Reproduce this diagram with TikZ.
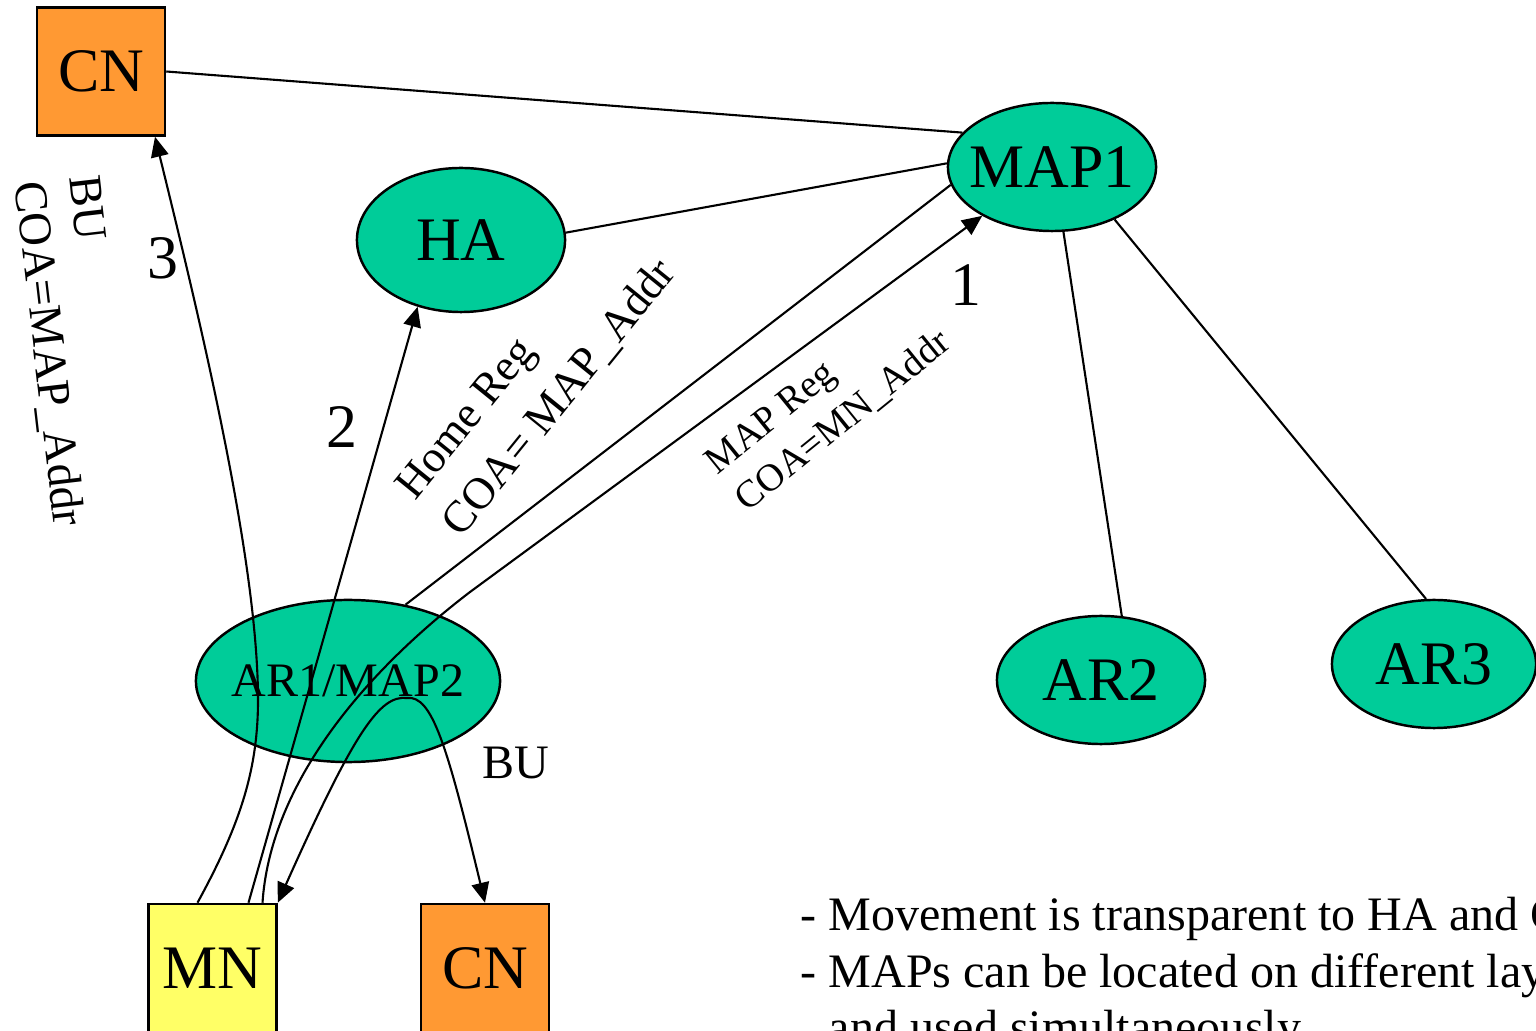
\documentclass[tikz,border=0pt]{standalone}
\usepackage{fontspec}
\setmainfont{Liberation Serif}
\usetikzlibrary{arrows.meta,calc,shapes.geometric}
\definecolor{nodegreen}{HTML}{00CC99}
\definecolor{cnorange}{HTML}{FF9933}
\definecolor{mnyellow}{HTML}{FFFF66}
\begin{document}
\begin{tikzpicture}[x=0.01cm,y=-0.01cm,
  big/.style={font=\fontsize{17.6}{21}\selectfont},
  mid/.style={font=\fontsize{13.66}{16.2}\selectfont},
  ell/.style={draw, line width=0.7pt, fill=nodegreen, ellipse, inner sep=0pt},
  box/.style={draw, line width=0.7pt, minimum width=1.28cm, minimum height=1.28cm, inner sep=0pt},
  conn/.style={line width=0.6pt},
  arr/.style={conn, -{Triangle[length=5.7pt,width=5pt]}},
  lbl/.style={inner sep=0pt}
]
\useasboundingbox (0,0) rectangle (1536,1031);
\clip (0,0) rectangle (1536,1031);

% nodes
\node[box, fill=cnorange, big] (cn1) at (101,71.5) {CN};
\node[ell, big, minimum width=2.08cm, minimum height=1.28cm] (map1) at (1052,167) {\makebox[0pt]{MAP1}};
\node[ell, big, minimum width=2.08cm, minimum height=1.44cm] (ha) at (461,240) {\makebox[0pt]{HA}};
\node[ell, mid, minimum width=3.04cm, minimum height=1.62cm] (ar1) at (348,681) {\makebox[0pt]{AR1/MAP2}};
\node[ell, big, minimum width=2.08cm, minimum height=1.28cm] (ar2) at (1101,680) {\makebox[0pt]{AR2}};
\node[ell, big, minimum width=2.04cm, minimum height=1.28cm] (ar3) at (1434,664) {\makebox[0pt]{AR3}};
\node[box, fill=mnyellow, big] (mn) at (212.5,968) {MN};
\node[box, fill=cnorange, big] (cn2) at (485,968) {CN};

% plain links
\draw[conn] (cn1.east) -- (map1.159);
\draw[conn] (ha.4) -- (map1.178);
\draw[conn] (ar1.53) -- (map1.190);
\draw[conn] (map1.280) -- (ar2.72);
\draw[conn] (map1.320) -- (ar3.97);

% arrow 1: MAP registration
\draw[arr] ($(mn.north)+(50,0)$) .. controls (270,790) and (355,680) .. (470,592) -- (map1.215);
% arrow 2: home registration
\draw[arr] ($(mn.north)+(36,0)$) -- (ha.237);
% arrow 3: BU to CN
\draw[arr] ($(mn.north)+(-15,0)$) .. controls (240,825) and (258,770) .. (258,700)
  .. controls (258,560) and (200,320) .. ($(cn1.south)+(54,0)$);
% relay from AR1/MAP2
\coordinate (hub) at (407,698);
\draw[arr] (hub) .. controls (380,695) and (355,730) .. (mn.north east);
\draw[arr] (hub) .. controls (432,695) and (447,745) .. (cn2.north);

% labels
\node[lbl, big] (n1) at (966,285) {1};
\node[lbl, big] (n2) at (342,427) {2};
\node[lbl, big] (n3) at (163,258) {3};
\node[lbl, mid] (bu) at (516,763) {BU};
\node[lbl, align=left, rotate=51, font=\fontsize{12.7}{17}\selectfont] (homereg) at (537,380) {Home Reg\\COA= MAP\_Addr};
\node[lbl, align=left, rotate=39, font=\fontsize{10.95}{13.7}\selectfont] (mapreg) at (828.5,403) {MAP Reg\\COA=MN\_Addr};
\node[lbl, align=left, rotate=-83.4, font=\fontsize{13.3}{15.6}\selectfont] (bucoa) at (74,351) {BU\\COA=MAP\_Addr};

% bottom text
\node[lbl, mid, anchor=base west] (t1) at (800,930) {- Movement is transparent to HA and CN};
\node[lbl, mid, anchor=base west] (t2) at (800,987) {- MAPs can be located on different layers};
\node[lbl, mid, anchor=base west] (t3) at (800,1044) {\phantom{- }and used simultaneously};
\end{tikzpicture}
\end{document}
